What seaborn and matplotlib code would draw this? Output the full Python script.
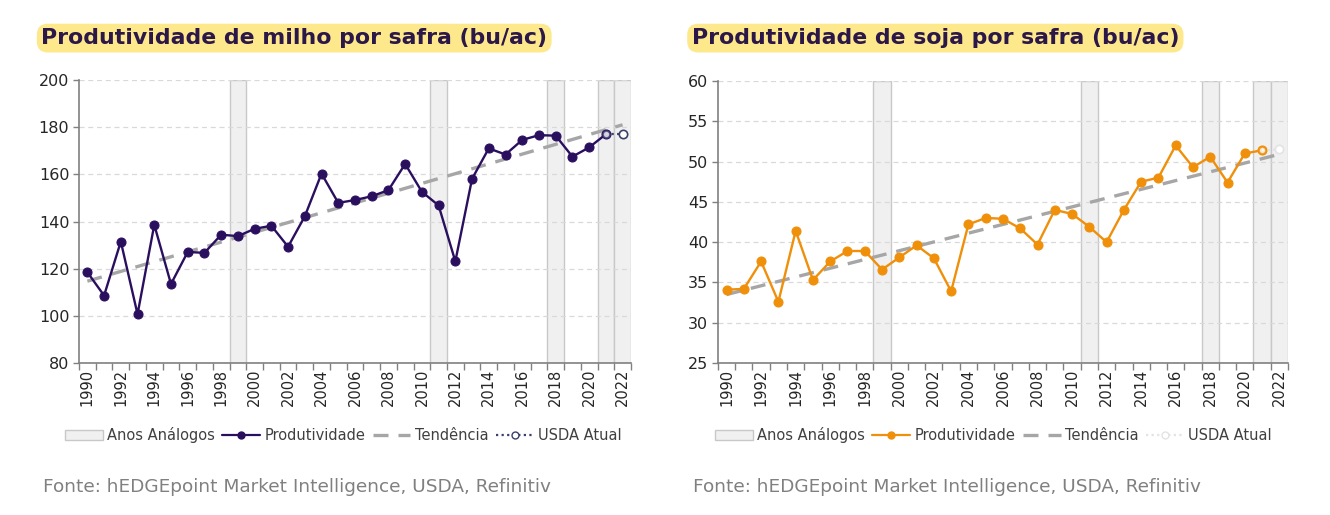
import numpy as np
import pandas as pd
import seaborn as sns
import matplotlib.pyplot as plt
from matplotlib.lines import Line2D
from matplotlib.patches import Patch

sns.set_theme(style="white")
plt.rcParams["font.family"] = ["DejaVu Sans"]

years = list(range(1990, 2022))
analog_years = [1999, 2011, 2018, 2021, 2022]

corn_yield = [118.5, 108.6, 131.5, 100.7, 138.6, 113.5, 127.1, 126.7, 134.4, 133.8,
              136.9, 138.2, 129.3, 142.2, 160.3, 147.9, 149.1, 150.7, 153.3, 164.4,
              152.6, 146.8, 123.1, 158.1, 171.0, 168.4, 174.6, 176.6, 176.4, 167.5,
              171.4, 177.0]
corn_usda_years = [2021, 2022]
corn_usda = [177.0, 177.0]
corn_trend_years = [1990, 2022]
corn_trend = [114.7, 181.0]

soy_yield = [34.1, 34.2, 37.6, 32.6, 41.4, 35.3, 37.6, 38.9, 38.9, 36.6,
             38.1, 39.6, 38.0, 33.9, 42.2, 43.0, 42.9, 41.7, 39.7, 44.0,
             43.5, 41.9, 40.0, 44.0, 47.5, 48.0, 52.0, 49.3, 50.6, 47.4,
             51.0, 51.4]
soy_usda_years = [2021, 2022]
soy_usda = [51.4, 51.5]
soy_trend_years = [1990, 2022]
soy_trend = [33.5, 50.9]

source = "Fonte: hEDGEpoint Market Intelligence, USDA, Refinitiv"

TEXT = "#262626"
BAND = "#f0f0f0"
BAND_EDGE = "#c8c8c8"
TREND = "#a6a6a6"


def draw_panel(ax, yld, usda_years, usda, trend_years, trend, color, usda_color,
               usda_first_edge, ylim, ystep):
    for yr in analog_years:
        ax.axvspan(yr - 0.5, yr + 0.5, facecolor=BAND, edgecolor=BAND_EDGE,
                   linewidth=1.0, zorder=0)

    df = pd.DataFrame({"year": years, "value": yld})
    sns.lineplot(data=df, x="year", y="value", ax=ax, color=color, linewidth=1.7,
                 marker="o", markersize=6.5, markeredgecolor=color, zorder=3)

    tr = pd.DataFrame({"year": trend_years, "value": trend})
    sns.lineplot(data=tr, x="year", y="value", ax=ax, color=TREND, linewidth=2.4,
                 zorder=2).lines[-1].set_dashes([4.5, 3])

    us = pd.DataFrame({"year": usda_years, "value": usda})
    sns.lineplot(data=us, x="year", y="value", ax=ax, color=usda_color,
                 linewidth=1.6, zorder=4).lines[-1].set_linestyle((0, (1, 1.5)))
    ax.plot(usda_years[0], usda[0], "o", markersize=5, markerfacecolor="white",
            markeredgecolor=usda_first_edge, markeredgewidth=1.2, zorder=5, alpha=0.8)
    ax.plot(usda_years[1], usda[1], "o", markersize=6, markerfacecolor="white",
            markeredgecolor=usda_color, markeredgewidth=1.2, zorder=5)

    ax.set_xlim(1989.5, 2022.5)
    ax.set_ylim(*ylim)
    ax.set_yticks(np.arange(ylim[0], ylim[1] + 0.1, ystep))
    ax.yaxis.grid(True, color="#d9d9d9", linestyle=(0, (4, 3)), linewidth=0.9)
    ax.xaxis.grid(False)
    ax.set_axisbelow(True)

    ax.set_xticks(np.arange(1989.5, 2023.0, 1.0))
    ax.set_xticklabels([])
    ax.tick_params(axis="x", which="major", length=5, width=1, color="#808080",
                   direction="out", bottom=True)
    ax.set_xticks(list(range(1990, 2023, 2)), minor=True)
    ax.set_xticklabels([str(y) for y in range(1990, 2023, 2)], minor=True,
                       rotation=90, fontsize=10.5, color=TEXT)
    ax.tick_params(axis="x", which="minor", length=0, pad=4)
    ax.tick_params(axis="y", length=4, width=1, color="#808080", left=True,
                   labelsize=11.5, labelcolor=TEXT, pad=3)

    for side in ["top", "right"]:
        ax.spines[side].set_visible(False)
    for side in ["left", "bottom"]:
        ax.spines[side].set_color("#808080")
        ax.spines[side].set_linewidth(1.2)
    ax.set_xlabel("")
    ax.set_ylabel("")


def legend_handles(color, usda_color):
    return [
        Patch(facecolor=BAND, edgecolor=BAND_EDGE, label="Anos Análogos"),
        Line2D([], [], color=color, linewidth=1.6, marker="o", markersize=5,
               label="Produtividade"),
        Line2D([], [], color=TREND, linewidth=2.4, dashes=[4.5, 3], label="Tendência"),
        Line2D([], [], color=usda_color, linewidth=1.6, linestyle=(0, (1, 1.5)),
               marker="o", markersize=5, markerfacecolor="white", label="USDA Atual"),
    ]


fig = plt.figure(figsize=(13.3, 5.15), dpi=100)
ax1 = fig.add_axes([0.0594, 0.2951, 0.4150, 0.5496])
ax2 = fig.add_axes([0.5398, 0.2951, 0.4286, 0.5477])

corn_color = "#2a0f5f"
soy_color = "#ef8f0a"

draw_panel(ax1, corn_yield, corn_usda_years, corn_usda, corn_trend_years, corn_trend,
           corn_color, "#3b3f6b", "#3b3f6b", (80, 200), 20)
draw_panel(ax2, soy_yield, soy_usda_years, soy_usda, soy_trend_years, soy_trend,
           soy_color, "#e3e3e3", soy_color, (25, 60), 5)

title_box = dict(boxstyle="round,pad=0.2,rounding_size=0.5", facecolor="#fde98c",
                 edgecolor="none")
fig.text(0.031, 0.926, "Produtividade de milho por safra (bu/ac)", fontsize=15.8,
         fontweight="bold", color="#2b1748", va="center", ha="left", bbox=title_box)
fig.text(0.520, 0.926, "Produtividade de soja por safra (bu/ac)", fontsize=15.8,
         fontweight="bold", color="#2b1748", va="center", ha="left", bbox=title_box)

leg_kw = dict(loc="center", ncol=4, frameon=False, fontsize=10.5, handlelength=2.6,
              handletextpad=0.3, columnspacing=0.5, labelcolor="#404040")
fig.legend(handles=legend_handles(corn_color, "#3b3f6b"),
           bbox_to_anchor=(0.258, 0.155), **leg_kw)
fig.legend(handles=legend_handles(soy_color, "#e3e3e3"),
           bbox_to_anchor=(0.747, 0.155), **leg_kw)

fig.text(0.032, 0.054, source, fontsize=13.3, color="#808080", ha="left", va="center")
fig.text(0.521, 0.054, source, fontsize=13.3, color="#808080", ha="left", va="center")

fig.savefig("out.png", dpi=100, facecolor="white")
